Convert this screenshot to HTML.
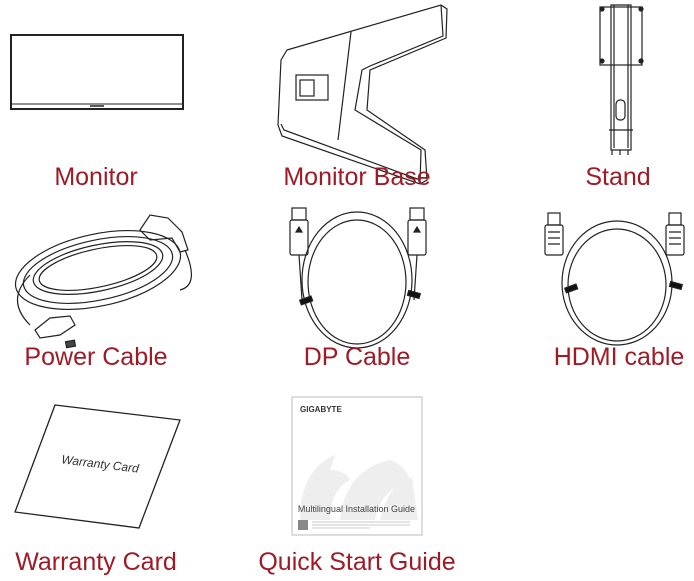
<!DOCTYPE html>
<html><head><meta charset="utf-8"><style>
html,body{margin:0;padding:0;background:#fff;}
body{width:694px;height:581px;overflow:hidden;position:relative;}
.l{position:absolute;font-family:"Liberation Sans",sans-serif;font-size:25px;color:#9e1b26;white-space:nowrap;transform:translateX(-50%);line-height:1;}
svg{position:absolute;left:0;top:0;}
</style></head><body>
<svg width="694" height="581" viewBox="0 0 694 581" fill="none" stroke="#222" stroke-width="1.2">
<rect x="11" y="35" width="172" height="74" stroke-width="2"/>
<line x1="11" y1="104" x2="183" y2="104" stroke-width="1"/>
<line x1="90" y1="106" x2="104" y2="106" stroke-width="1.5"/>
<path d="M287,50 L441,5 L447,9 L446,38 L370,70 L367,110 L425,150 L427,180 L420,184 L282,136 L278,125 L281,60 Z"/>
<path d="M351,32 L338,140"/>
<path d="M441,5 L443,36 L370,66 L362,70 L355,110 L421,150 L420,184"/>
<path d="M281,124 L284,130 L420,180"/>
<rect x="296" y="75" width="32" height="25" />
<rect x="300" y="80" width="14" height="16"/>
<rect x="600" y="7" width="42" height="58"/>
<path d="M611,5 L631,5 L631,150 L611,150 Z"/>
<path d="M614,5 L614,148 M628,5 L628,148"/>
<path d="M609,130 L633,130"/>
<rect x="616" y="100" width="9" height="20" rx="4"/>
<circle cx="602" cy="9" r="2" fill="#222"/><circle cx="641" cy="9" r="2" fill="#222"/>
<circle cx="602" cy="61" r="2" fill="#222"/><circle cx="641" cy="61" r="2" fill="#222"/>
<path d="M612,150 L612,155 M620,150 L620,155 M628,150 L628,155"/>
<ellipse cx="98" cy="270" rx="84" ry="36" transform="rotate(-12 98 270)"/>
<ellipse cx="98" cy="270" rx="76" ry="30" transform="rotate(-12 98 270)"/>
<ellipse cx="98" cy="268" rx="66" ry="23" transform="rotate(-12 98 268)"/>
<ellipse cx="98" cy="268" rx="60" ry="19" transform="rotate(-12 98 268)"/>
<path d="M140,230 L150,215 L168,218 L182,232 L188,250 L180,252 L172,238 L150,240 Z"/>
<path d="M185,250 Q200,285 180,290"/>
<path d="M35,330 L50,318 L70,316 L75,325 L60,335 L40,338 Z"/>
<path d="M30,325 Q5,300 30,275"/>
<rect x="66" y="341" width="9" height="6" fill="#444" transform="rotate(-10 70 344)"/>
<ellipse cx="357" cy="280" rx="55" ry="68"/>
<ellipse cx="357" cy="282" rx="49" ry="62"/>
<rect x="292" y="208" width="14" height="12"/><rect x="290" y="220" width="18" height="35" rx="2"/>
<path d="M296,232 L299,227 L302,232 Z" fill="#222"/>
<rect x="410" y="208" width="14" height="12"/><rect x="408" y="220" width="18" height="35" rx="2"/>
<path d="M414,232 L417,227 L420,232 Z" fill="#222"/>
<path d="M299,255 L302,300 M417,255 L414,300"/>
<rect x="300" y="298" width="12" height="5" fill="#111" transform="rotate(-20 306 300)"/>
<rect x="408" y="292" width="12" height="5" fill="#111" transform="rotate(15 414 294)"/>
<ellipse cx="617" cy="283" rx="55" ry="62"/>
<ellipse cx="617" cy="285" rx="49" ry="56"/>
<rect x="548" y="213" width="12" height="12"/><rect x="545" y="225" width="18" height="30" rx="2"/>
<path d="M548,232 H560 M548,238 H560 M548,244 H560"/>
<rect x="669" y="213" width="12" height="12"/><rect x="666" y="225" width="18" height="30" rx="2"/>
<path d="M669,232 H681 M669,238 H681 M669,244 H681"/>
<rect x="565" y="286" width="12" height="5" fill="#111" transform="rotate(-20 571 288)"/>
<rect x="670" y="283" width="12" height="5" fill="#111" transform="rotate(15 676 285)"/>
<path d="M55,405 L180,420 L139,528 L15,512 Z" stroke-width="1.3"/>
<text x="100" y="468" font-family="Liberation Sans,sans-serif" font-size="12" font-style="italic" fill="#333" stroke="none" text-anchor="middle" transform="rotate(7 100 465)">Warranty Card</text>
<rect x="292" y="397" width="130" height="138" stroke="#bbb" stroke-width="1"/>
<path d="M300,520 Q300,470 335,455 L330,470 Q345,470 350,480 Q330,490 330,520 Z" fill="#eee" stroke="none"/>
<path d="M340,520 Q345,470 390,460 Q405,465 410,480 Q380,490 375,520 Z" fill="#eee" stroke="none"/>
<path d="M380,520 Q390,480 412,478 L418,520 Z" fill="#eee" stroke="none"/>
<text x="300" y="412" font-family="Liberation Sans,sans-serif" font-size="8" font-weight="bold" fill="#333" stroke="none">GIGABYTE</text>
<text x="415" y="512" font-family="Liberation Sans,sans-serif" font-size="9" fill="#444" stroke="none" text-anchor="end">Multilingual Installation Guide</text>
<rect x="298" y="520" width="10" height="10" fill="#888" stroke="none"/>
<path d="M312,522 H410 M312,525 H410 M312,528 H370" stroke="#bbb" stroke-width="0.8"/>
</svg>
<div class="l" style="left:96px;top:165px">Monitor</div>
<div class="l" style="left:357px;top:165px">Monitor Base</div>
<div class="l" style="left:618px;top:165px">Stand</div>
<div class="l" style="left:96px;top:345px">Power Cable</div>
<div class="l" style="left:357px;top:345px">DP Cable</div>
<div class="l" style="left:619px;top:345px">HDMI cable</div>
<div class="l" style="left:96px;top:550px">Warranty Card</div>
<div class="l" style="left:357px;top:550px">Quick Start Guide</div>
</body></html>
